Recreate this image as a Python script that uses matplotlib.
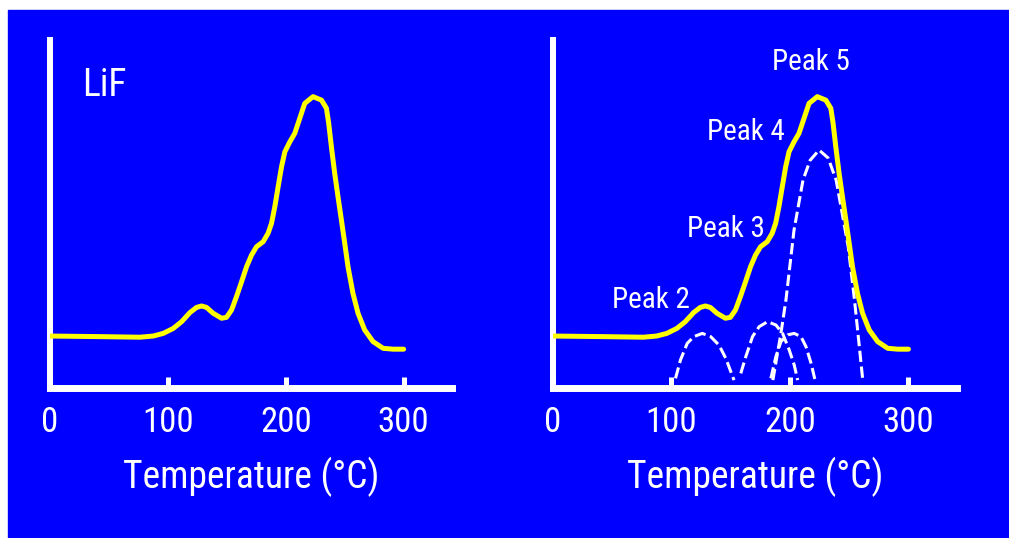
import matplotlib
matplotlib.use('Agg')
import matplotlib.pyplot as plt
from matplotlib.patches import Rectangle

# glow curve of LiF (temperature in C, relative TL intensity)
temp = [0, 42.4, 76.3, 87.5, 96.0, 104.5, 111.6, 118.6, 124.3, 128.6, 132.8,
        138.4, 145.5, 149.7, 154.0, 158.2, 162.5, 166.7, 170.9, 175.2, 180.8,
        185.0, 187.9, 190.7, 193.5, 196.4, 199.2, 203.4, 207.6, 211.9, 216.1,
        223.1, 230.3, 234.5, 236.4, 238.7, 241.5, 244.3, 247.2, 250.0, 252.8,
        257.0, 261.3, 266.9, 274.0, 282.5, 290.9, 300.0]
intensity = [17.8, 17.6, 17.4, 17.8, 18.7, 20.4, 22.7, 25.8, 27.6, 28.1, 27.6,
             25.6, 23.9, 24.2, 26.7, 31.3, 36.4, 41.5, 45.5, 48.4, 50.1,
             53.0, 56.4, 62.1, 68.9, 75.8, 80.9, 84.3, 87.2, 92.4, 97.5,
             99.8, 98.6, 95.8, 90.7, 82.6, 73.5, 65.5, 57.5, 49.6, 41.5,
             32.4, 25.6, 19.9, 15.9, 13.6, 13.3, 13.3]

# deconvoluted peaks (dashed)
peak2_t = [103.4, 107.6, 113.3, 118.9, 126.0, 133.1, 140.1, 145.8, 152.8]
peak2_i = [3.3, 9.6, 15.3, 17.6, 18.7, 17.6, 14.7, 10.2, 2.7]
peak3_t = [158.5, 162.7, 168.4, 174.0, 181.1, 188.1, 193.8, 199.4, 203.6, 206.5]
peak3_i = [5.0, 10.7, 17.6, 21.0, 22.7, 21.6, 18.7, 13.0, 7.9, 2.7]
peak4_t = [183.9, 188.1, 192.4, 198.1, 203.6, 209.3, 213.6, 217.8, 221.2]
peak4_i = [3.3, 10.7, 15.9, 18.2, 18.7, 17.6, 14.1, 8.5, 2.7]
peak5_t = [185.6, 192.4, 196.6, 203.4, 211.0, 217.0, 224.6, 232.2, 239.0,
           249.2, 254.5, 257.4, 261.6]
peak5_i = [2.7, 18.8, 30.1, 54.0, 71.2, 78.0, 81.5, 78.8, 71.2,
           48.3, 30.1, 18.7, 2.2]

peak_labels = ['Peak 2', 'Peak 3', 'Peak 4', 'Peak 5']
label_t = [83, 146, 163, 218]
label_i = [27.4, 51.7, 84.9, 108.9]

xticks = [0, 100, 200, 300]

plt.rcParams['font.family'] = ['Nimbus Sans Narrow', 'Arial Narrow', 'Liberation Sans Narrow',
                               'Roboto Condensed', 'Archivo Narrow', 'Liberation Sans',
                               'DejaVu Sans']

W, H = 1009, 538
fig = plt.figure(figsize=(W / 100, H / 100), dpi=100, facecolor='white')
fig.patches.append(Rectangle((8 / W, 0), 1, (H - 10) / H, transform=fig.transFigure,
                             color='#0000FF', zorder=-1))


def style_axes(ax):
    ax.set_facecolor('none')
    ax.set_xlim(0, 341)
    ax.set_ylim(0, 119.2)
    for s in ['top', 'right']:
        ax.spines[s].set_visible(False)
    ax.spines['left'].set_color('white')
    ax.spines['left'].set_linewidth(4.3)
    ax.spines['bottom'].set_color('white')
    ax.spines['bottom'].set_linewidth(5)
    ax.set_yticks([])
    ax.set_xticks(xticks)
    ax.set_xticklabels([str(t) for t in xticks])
    ax.tick_params(axis='x', direction='in', length=8, width=3.6, color='white',
                   labelcolor='white', labelsize=25, pad=13)
    ax.set_xlabel('Temperature (°C)', color='white', fontsize=27, labelpad=13)


ax1 = fig.add_axes([50 / W, 150 / H, 402 / W, 348 / H])
ax2 = fig.add_axes([553 / W, 150 / H, 404 / W, 348 / H])

for ax in (ax1, ax2):
    style_axes(ax)
    ax.plot(temp, intensity, color='#FFFF00', lw=3.6, solid_joinstyle='round',
            solid_capstyle='round', zorder=3)

ax1.text(27, 100, 'LiF', color='white', fontsize=27, ha='left', va='baseline')

for pt, pi in [(peak2_t, peak2_i), (peak3_t, peak3_i), (peak4_t, peak4_i), (peak5_t, peak5_i)]:
    ax2.plot(pt, pi, color='white', lw=2.2, linestyle=(0, (3.7, 1.5)), zorder=2)

for lab, lt, li in zip(peak_labels, label_t, label_i):
    ax2.text(lt, li, lab, color='white', fontsize=21, ha='center', va='baseline')

fig.savefig('out.png', dpi=100, facecolor='white')
